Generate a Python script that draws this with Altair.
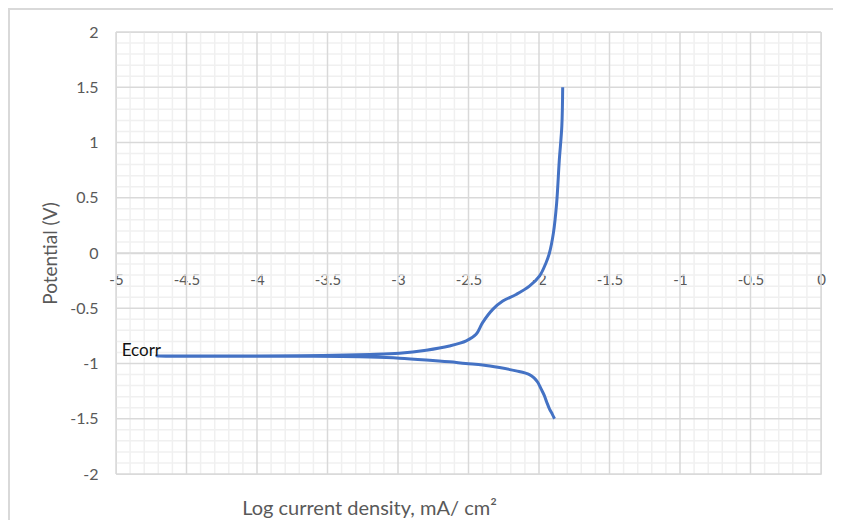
import altair as alt
import pandas as pd

# Polarisation curve: log current density (x) vs potential (y), in drawing order
lcd = [-1.890, -1.905, -1.926, -1.945, -1.962, -1.985, -2.009, -2.035, -2.068, -2.162,
       -2.280, -2.400, -2.520, -2.635, -2.800, -2.990, -3.200, -3.400, -3.700, -4.000,
       -4.400, -4.710,
       -4.400, -4.000, -3.700, -3.450, -3.200, -2.990, -2.800, -2.635, -2.516, -2.446,
       -2.400, -2.328, -2.257, -2.162, -2.068, -1.997, -1.950, -1.926, -1.898, -1.875,
       -1.856, -1.838, -1.832]
pot = [-1.500, -1.460, -1.410, -1.350, -1.290, -1.230, -1.170, -1.130, -1.100, -1.067,
       -1.037, -1.013, -1.000, -0.985, -0.968, -0.952, -0.942, -0.937, -0.935, -0.935,
       -0.934, -0.933,
       -0.932, -0.932, -0.930, -0.925, -0.918, -0.907, -0.880, -0.842, -0.796, -0.736,
       -0.630, -0.510, -0.435, -0.375, -0.300, -0.210, -0.088, 0.000, 0.180, 0.450,
       0.840, 1.150, 1.500]

x_major = [-5, -4.5, -4, -3.5, -3, -2.5, -2, -1.5, -1, -0.5, 0]
y_major = [-2, -1.5, -1, -0.5, 0, 0.5, 1, 1.5, 2]
x_minor = [round(-5 + 0.1 * i, 1) for i in range(1, 50) if i % 5 != 0]
y_minor = [round(-2 + 0.1 * i, 1) for i in range(1, 40) if i % 5 != 0]

ann_text = ["Ecorr"]
ann_x = [-4.96]
ann_y = [-0.935]

df = pd.DataFrame({"lcd": lcd, "pot": pot, "i": list(range(len(lcd)))})
ann = pd.DataFrame({"t": ann_text, "x": ann_x, "y": ann_y})

FONT = "Lato"
GRAY = "#595959"
XTITLE = "Log current density, mA/ cm²"
YTITLE = "Potential (V)"
xs = alt.Scale(domain=[-5, 0], nice=False, zero=False)
ys = alt.Scale(domain=[-2, 2], nice=False, zero=False)

x_axis = alt.Axis(orient="bottom", offset=-221, values=x_major, labelExpr="toString(datum.value)",
                  grid=False, ticks=False, domain=True, domainColor="#d9d9d9", domainWidth=1.5,
                  labelFont=FONT, labelFontSize=15, labelColor=GRAY, labelPadding=19,
                  labelFlush=False, labelOverlap=False,
                  titleFont=FONT, titleFontSize=20, titleFontWeight="normal", titleColor=GRAY,
                  titleX=253, titleY=255, titleAlign="center", titleBaseline="middle")
y_axis = alt.Axis(values=y_major, labelExpr="toString(datum.value)", grid=False, ticks=False,
                  domain=False, labelFont=FONT, labelFontSize=16, labelColor=GRAY,
                  labelPadding=18, titleFont=FONT, titleFontSize=19, titleFontWeight="normal",
                  titleColor=GRAY, titlePadding=9)


def X(f):
    return alt.X(f, scale=xs, axis=x_axis, title=XTITLE)


def Y(f):
    return alt.Y(f, scale=ys, axis=y_axis, title=YTITLE)


minor_x = alt.Chart(pd.DataFrame({"v": x_minor})).mark_rule(color="#f0f0f0", strokeWidth=1.5).encode(x=X("v:Q"))
minor_y = alt.Chart(pd.DataFrame({"v": y_minor})).mark_rule(color="#f0f0f0", strokeWidth=1.5).encode(y=Y("v:Q"))
major_x = alt.Chart(pd.DataFrame({"v": x_major})).mark_rule(color="#d9d9d9", strokeWidth=1.5).encode(x=X("v:Q"))
major_y = alt.Chart(pd.DataFrame({"v": y_major})).mark_rule(color="#d9d9d9", strokeWidth=1.5).encode(y=Y("v:Q"))

line = alt.Chart(df).mark_line(color="#4472C4", strokeWidth=3, interpolate="catmull-rom").encode(
    x=X("lcd:Q"), y=Y("pot:Q"), order="i:Q")

label = alt.Chart(ann).mark_text(align="left", baseline="alphabetic", font=FONT, fontSize=17,
                                 color="#111111").encode(x=X("x:Q"), y=Y("y:Q"), text="t:N")

frame_top = alt.Chart(pd.DataFrame({"a": [0]})).mark_rule(color="#d9d9d9", strokeWidth=2).encode(
    x=alt.value(-108), x2=alt.value(720), y=alt.value(-23))
frame_left = alt.Chart(pd.DataFrame({"a": [0]})).mark_rule(color="#d9d9d9", strokeWidth=2).encode(
    x=alt.value(-107), y=alt.value(-24), y2=alt.value(488))

chart = alt.layer(minor_x, minor_y, major_x, major_y, line, label, frame_top, frame_left).properties(
    width=705, height=442,
    autosize=alt.AutoSizeParams(type="none"),
    padding={"left": 108, "top": 24, "right": 12, "bottom": 46},
).configure_view(stroke=None).configure(background="white")

chart.save("out.html", embed_options={"renderer": "svg", "actions": False})
